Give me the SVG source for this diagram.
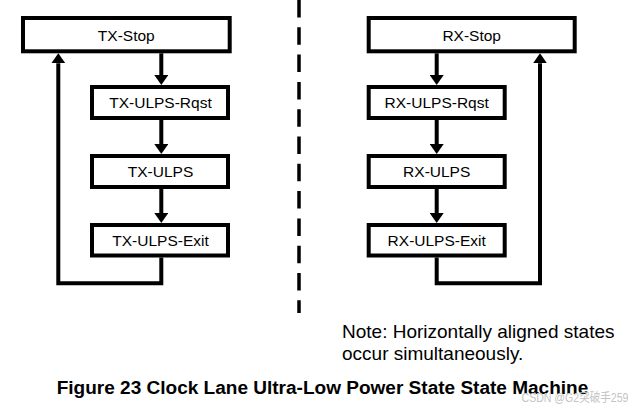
<svg xmlns="http://www.w3.org/2000/svg" width="641" height="409" viewBox="0 0 641 409">
  <defs>
    <style>
      .box{fill:#fff;stroke:#000;stroke-width:4}
      .lbl{font-family:"Liberation Sans",Arial,sans-serif;font-size:15.5px;fill:#000;text-anchor:middle}
      .conn{fill:none;stroke:#000;stroke-width:4;stroke-linejoin:miter}
      .note{font-family:"Liberation Sans",Arial,sans-serif;font-size:19px;fill:#000}
      .cap{font-family:"Liberation Sans",Arial,sans-serif;font-size:18px;font-weight:bold;fill:#000}
      .wm{font-family:"Liberation Sans","Noto Sans CJK SC",sans-serif;font-size:12px;fill:#c4c4c4}
    </style>
    <marker id="arr" viewBox="0 0 10 14" refX="0" refY="7" markerWidth="10" markerHeight="14" markerUnits="userSpaceOnUse" orient="auto">
      <path d="M0,0 L10,7 L0,14 Z" fill="#000"/>
    </marker>
  </defs>
  <rect width="641" height="409" fill="#fff"/>

  <g id="divider">
    <path d="M299,0 V313" fill="none" stroke="#000" stroke-width="3.5" stroke-dasharray="17.5 9.8"/>
  </g>

  <g id="connectors">
    <path class="conn" d="M161.3,53.3 V75" marker-end="url(#arr)"/>
    <path class="conn" d="M161.3,120 V144" marker-end="url(#arr)"/>
    <path class="conn" d="M161.3,189 V213" marker-end="url(#arr)"/>
    <path class="conn" d="M161.3,257.5 V283.3 H58.3 V63.3" marker-end="url(#arr)"/>
    <path class="conn" d="M436.7,53.3 V75" marker-end="url(#arr)"/>
    <path class="conn" d="M436.7,120 V144" marker-end="url(#arr)"/>
    <path class="conn" d="M436.7,189 V213" marker-end="url(#arr)"/>
    <path class="conn" d="M436.7,257.5 V283.3 H540 V63.3" marker-end="url(#arr)"/>
  </g>

  <g id="tx-stop"><rect class="box" x="23" y="18" width="206.7" height="33.3"/><text class="lbl" x="126.3" y="40.5">TX-Stop</text></g>
  <g id="tx-ulps-rqst"><rect class="box" x="92" y="87" width="136" height="31"/><text class="lbl" x="160.5" y="108">TX-ULPS-Rqst</text></g>
  <g id="tx-ulps"><rect class="box" x="92" y="156" width="136" height="31"/><text class="lbl" x="160.5" y="177">TX-ULPS</text></g>
  <g id="tx-ulps-exit"><rect class="box" x="92" y="225" width="136" height="30.5"/><text class="lbl" x="160.5" y="245.5">TX-ULPS-Exit</text></g>

  <g id="rx-stop"><rect class="box" x="368.7" y="18" width="206" height="33.3"/><text class="lbl" x="471.7" y="40.5">RX-Stop</text></g>
  <g id="rx-ulps-rqst"><rect class="box" x="368.7" y="87" width="136" height="31"/><text class="lbl" x="436.7" y="108">RX-ULPS-Rqst</text></g>
  <g id="rx-ulps"><rect class="box" x="368.7" y="156" width="136" height="31"/><text class="lbl" x="436.7" y="177">RX-ULPS</text></g>
  <g id="rx-ulps-exit"><rect class="box" x="368.7" y="225" width="136" height="30.5"/><text class="lbl" x="436.7" y="245.5">RX-ULPS-Exit</text></g>

  <g id="note">
    <text class="note" x="342" y="337.5">Note: Horizontally aligned states</text>
    <text class="note" x="342" y="360">occur simultaneously.</text>
  </g>
  <g id="caption">
    <text class="cap" x="56.7" y="394" textLength="531.6" lengthAdjust="spacingAndGlyphs">Figure 23 Clock Lane Ultra-Low Power State State Machine</text>
  </g>
  <g id="watermark">
    <text class="wm" x="521.5" y="402" textLength="107" lengthAdjust="spacingAndGlyphs">CSDN @G2突破手259</text>
  </g>
</svg>
